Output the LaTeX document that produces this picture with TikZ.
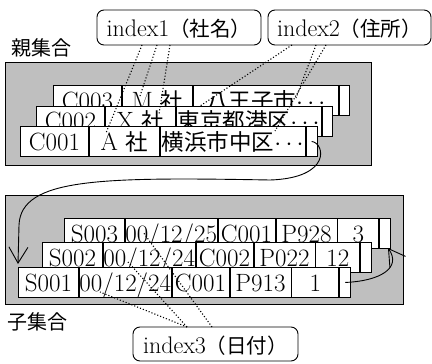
\documentclass[tikz,border=0pt]{standalone}
\usepackage{fontspec}
\newfontfamily\jp{Noto Sans CJK JP}
\usetikzlibrary{arrows.meta}
\tikzset{
  setbox/.style={draw, line width=0.9pt, fill=gray!50, inner sep=0pt, anchor=north west},
  cell/.style={draw, fill=white, line width=0.9pt, minimum height=30pt, inner sep=0pt,
    text height=18pt, text depth=0pt, anchor=west, font=\fontsize{25}{28}\selectfont},
  ibox/.style={draw, fill=white, line width=0.9pt, rounded corners=7pt, inner sep=0pt,
    text height=19pt, text depth=0pt, font=\fontsize{24}{26}\selectfont},
  lbl/.style={inner sep=0pt, font=\jp\fontsize{20}{22}\selectfont},
  idx/.style={line width=1.1pt, dotted},
  ptr/.style={line width=0.9pt, -{Straight Barb[length=16pt,width=19pt]}}
}
\newcommand{\cjc}[1]{{\jp\fontsize{22.5}{26}\selectfont #1}}
\newcommand{\cji}[1]{{\jp\fontsize{20.5}{24}\selectfont #1}}
\begin{document}
\begin{tikzpicture}[x=1pt,y=-1pt]
\useasboundingbox (0,0) rectangle (432,364);
% parent set
\node[setbox, minimum width=366pt, minimum height=103pt] (pset) at (5,62) {};
\node[lbl] (plbl) at (42,48) {親集合};
% row C003
\node[cell,minimum width=68pt,anchor=north west] (c3id) at (53,85) {C003};
\node[cell,minimum width=70pt] (c3nm) at (c3id.east) {M \cjc{社}};
\node[cell,minimum width=145pt] (c3ad) at (c3nm.east) {\cjc{八王子市}$\cdots$};
\node[cell,minimum width=10pt] (c3pt) at (c3ad.east) {};
% row C002
\node[cell,minimum width=68pt,anchor=north west] (c2id) at (36,105.5) {C002};
\node[cell,minimum width=70pt] (c2nm) at (c2id.east) {X \cjc{社}};
\node[cell,minimum width=145pt] (c2ad) at (c2nm.east) {\cjc{東京都港区}$\cdots$};
\node[cell,minimum width=10pt] (c2pt) at (c2ad.east) {};
% row C001
\node[cell,minimum width=68pt,anchor=north west] (c1id) at (20,126) {C001};
\node[cell,minimum width=70pt] (c1nm) at (c1id.east) {A \cjc{社}};
\node[cell,minimum width=145pt] (c1ad) at (c1nm.east) {\cjc{横浜市中区}$\cdots$};
\node[cell,minimum width=11pt] (c1pt) at (c1ad.east) {};
% child set
\node[setbox, minimum width=398pt, minimum height=109pt] (cset) at (5,195) {};
\node[lbl] (clbl) at (38,322) {子集合};
% row S003
\node[cell,minimum width=60pt,anchor=north west] (s3id) at (64,218) {S003};
\node[cell,minimum width=90pt] (s3dt) at (s3id.east) {00/12/25};
\node[cell,minimum width=57pt] (s3cu) at (s3dt.east) {C001};
\node[cell,minimum width=61pt] (s3pr) at (s3cu.east) {P928};
\node[cell,minimum width=41pt] (s3qt) at (s3pr.east) {3};
\node[cell,minimum width=11pt] (s3pt) at (s3qt.east) {};
% row S002
\node[cell,minimum width=60pt,anchor=north west] (s2id) at (42,242) {S002};
\node[cell,minimum width=90pt] (s2dt) at (s2id.east) {00/12/24};
\node[cell,minimum width=57pt] (s2cu) at (s2dt.east) {C002};
\node[cell,minimum width=61pt] (s2pr) at (s2cu.east) {P022};
\node[cell,minimum width=44pt] (s2qt) at (s2pr.east) {12};
\node[cell,minimum width=11pt] (s2pt) at (s2qt.east) {};
% row S001
\node[cell,minimum width=60pt,anchor=north west] (s1id) at (18,267) {S001};
\node[cell,minimum width=90pt] (s1dt) at (s1id.east) {00/12/24};
\node[cell,minimum width=57pt] (s1cu) at (s1dt.east) {C001};
\node[cell,minimum width=61pt] (s1pr) at (s1cu.east) {P913};
\node[cell,minimum width=47pt] (s1qt) at (s1pr.east) {1};
\node[cell,minimum width=11pt] (s1pt) at (s1qt.east) {};
% pointers
\coordinate (pe) at (18,264);
\coordinate (ce) at (388,248);
\draw[ptr] (c1pt.center) .. controls (325,143) and (332,178) .. (270,180)
  .. controls (100,177) and (21,178) .. (19,225) -- (pe);
\draw[ptr] (s1pt.center) .. controls (380,281) and (402,268) .. (ce);
% index boxes
\node[ibox, minimum width=164pt, minimum height=35pt] (i1) at (179,27.5) {index1\cji{（社名）}};
\node[ibox, minimum width=163pt, minimum height=35pt] (i2) at (349.5,27.5) {index2\cji{（住所）}};
\node[ibox, minimum width=165pt, minimum height=34pt] (i3) at (215.5,344) {index3\cji{（日付）}};
% index links
\coordinate (a1) at (142,45); \coordinate (a2) at (157,45); \coordinate (a3) at (170,45);
\coordinate (a1e) at (106,133); \coordinate (a2e) at (140,96); \coordinate (a3e) at (159,114);
\draw[idx] (a1) -- (a1e);
\draw[idx] (a2) -- (a2e);
\draw[idx] (a3) -- (a3e);
\coordinate (b1) at (292,45); \coordinate (b2) at (316,45); \coordinate (b3) at (326,45);
\coordinate (b1e) at (200,106); \coordinate (b2e) at (296,98); \coordinate (b3e) at (275,131);
\draw[idx] (b1) -- (b1e);
\draw[idx] (b2) -- (b2e);
\draw[idx] (b3) -- (b3e);
\coordinate (d1) at (187,327); \coordinate (d2) at (187,327); \coordinate (d3) at (212,327);
\coordinate (d1e) at (100,292); \coordinate (d2e) at (128,262); \coordinate (d3e) at (143,232);
\draw[idx] (d1) -- (d1e);
\draw[idx] (d2) -- (d2e);
\draw[idx] (d3) -- (d3e);
\end{tikzpicture}
\end{document}
